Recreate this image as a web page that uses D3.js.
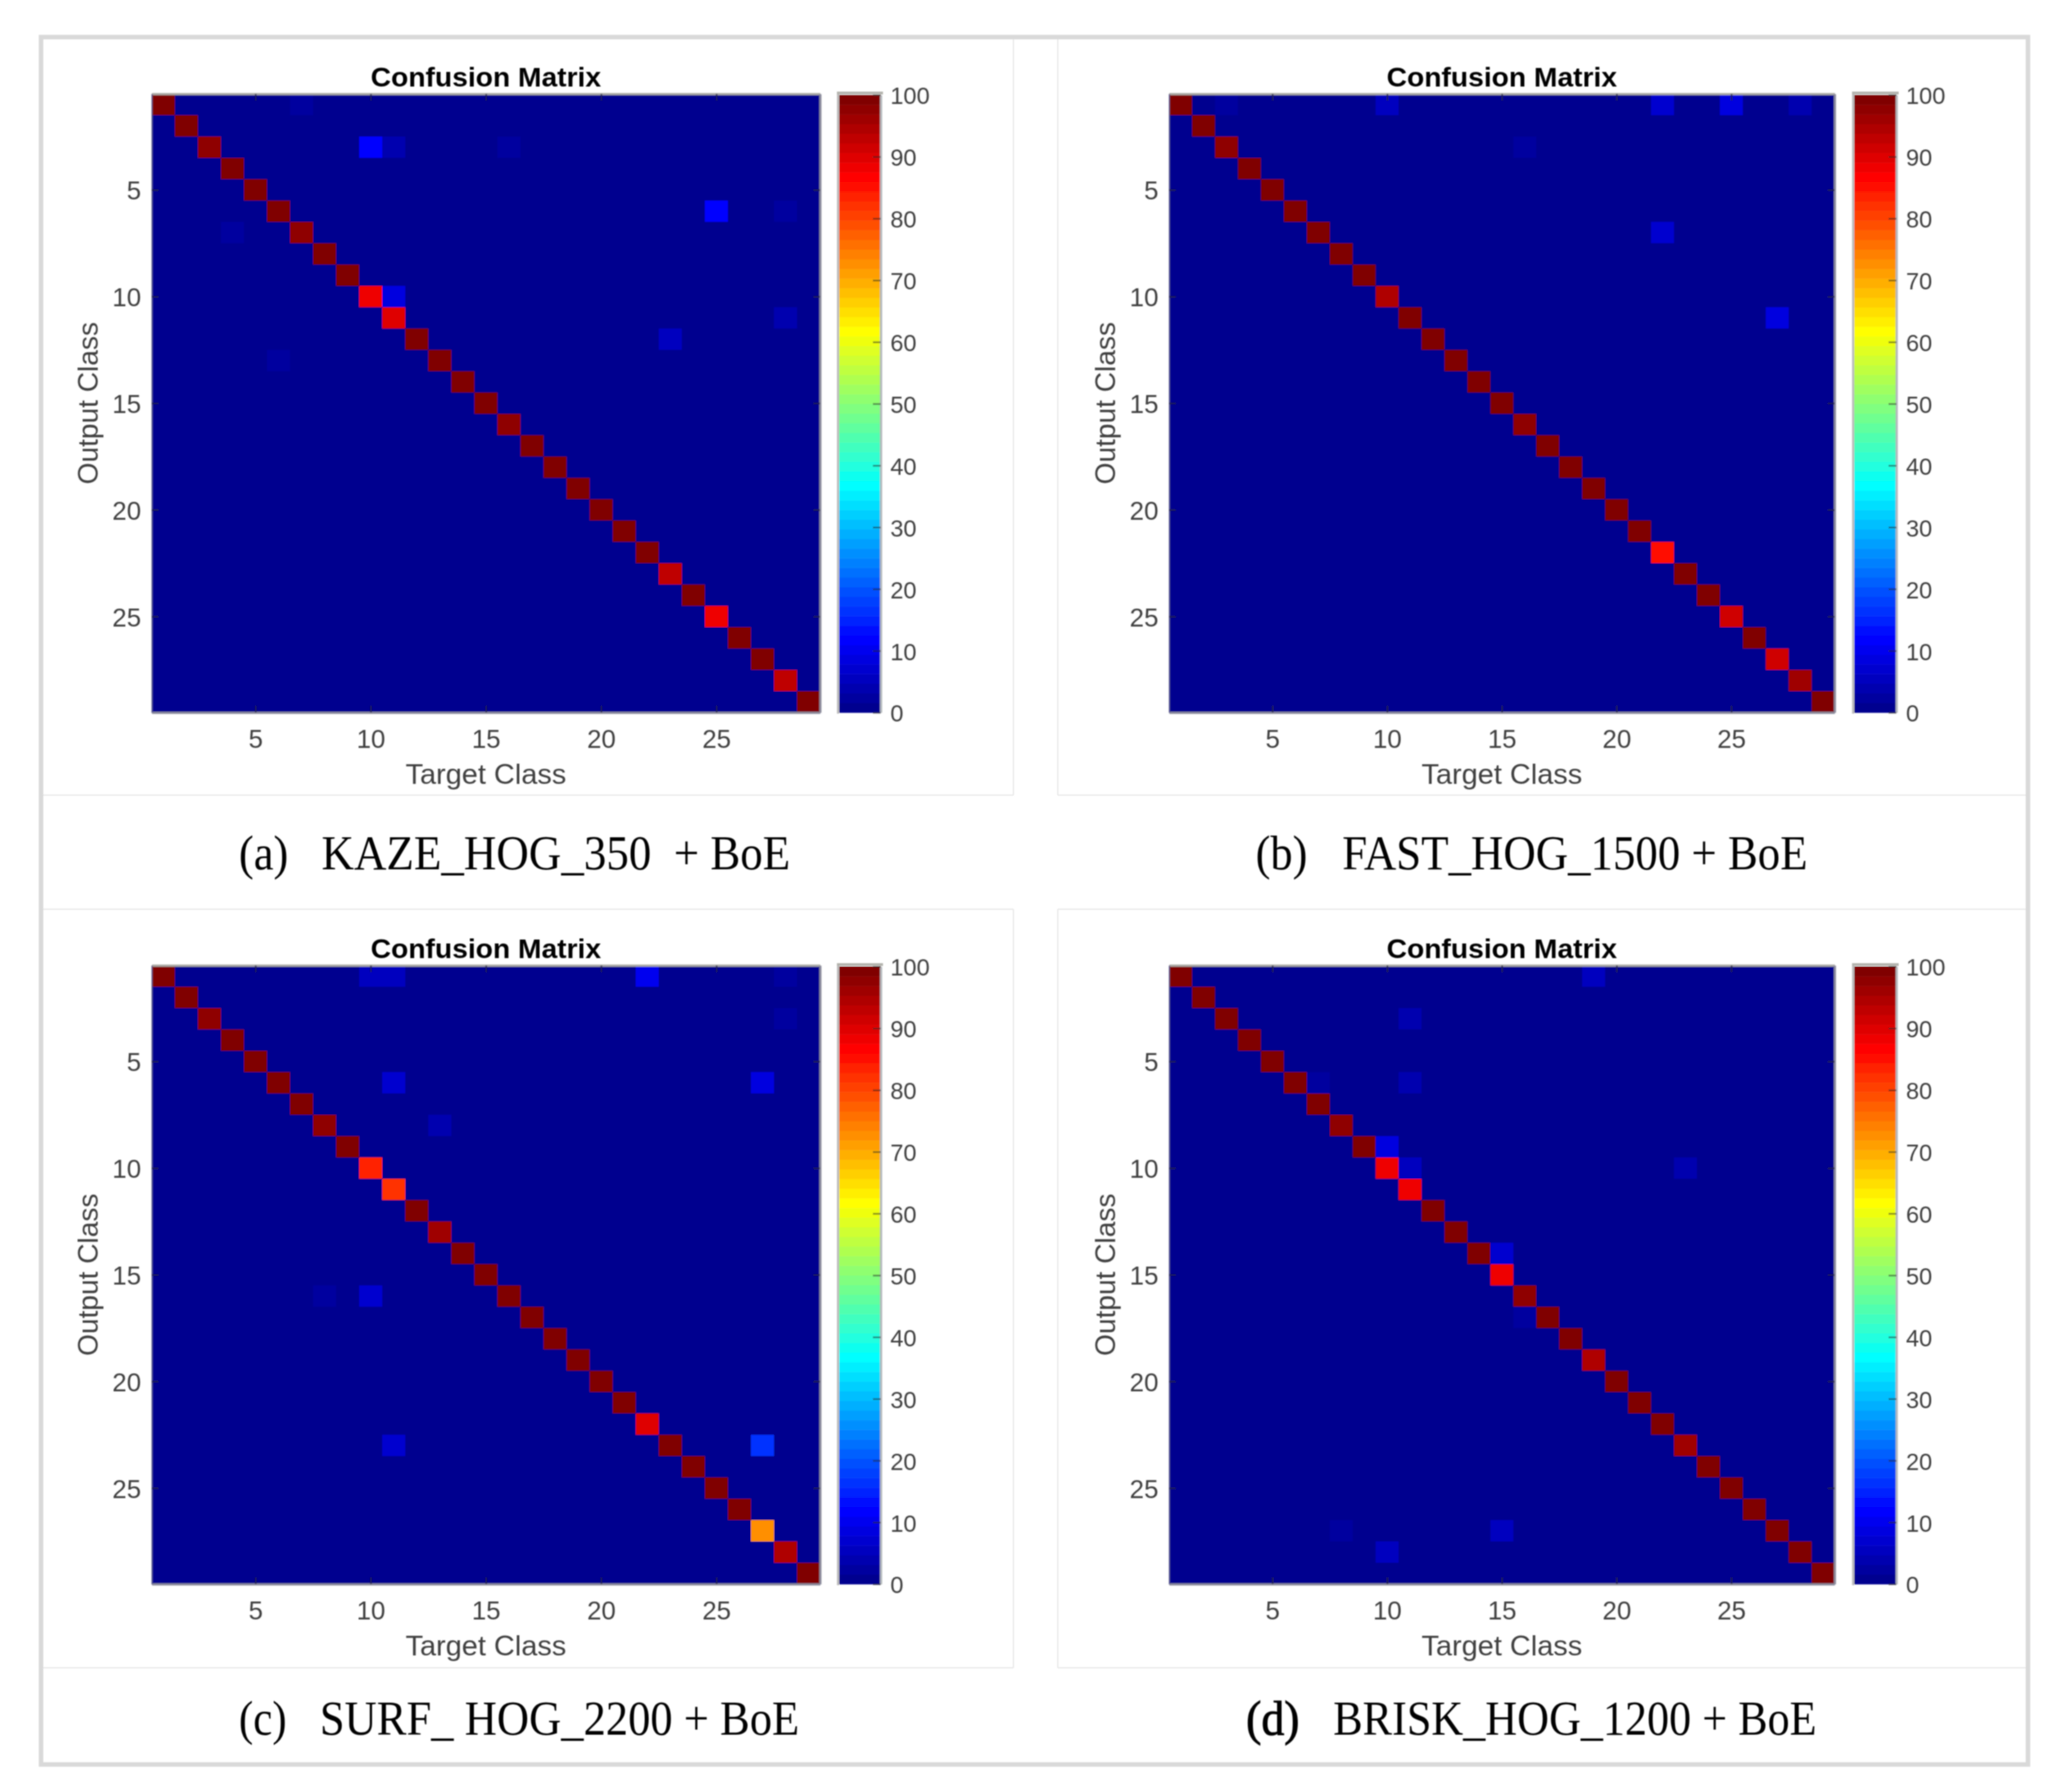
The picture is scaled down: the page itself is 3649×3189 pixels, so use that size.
<!DOCTYPE html>
<html lang='en'>
	<head>
		<meta charset='UTF-8'>
		<title>Confusion Matrix</title>
		<style>
			html, body { margin: 0; padding: 0; background: #fff; }
			svg { display: block; }
		</style>
	</head>
	<body>
		<svg id='graph' width='3649' height='3189'></svg>

		<script src='https://d3js.org/d3.v7.min.js'></script>
		<script>
			const classCount = 29
			const xTicks = [5, 10, 15, 20, 25]
			const yTicks = [5, 10, 15, 20, 25]
			const barTicks = [0, 10, 20, 30, 40, 50, 60, 70, 80, 90, 100]

			// diagonal values, class 1 to 29
			const diagA = [100, 99, 97.5, 99, 99, 99, 97.5, 99, 99, 88, 90, 99, 99, 99, 100, 97.5, 100, 100, 99, 99, 100, 99, 93, 100, 88, 100, 99, 93, 100]
			const diagB = [99, 99, 97.5, 99, 99, 100, 99, 99, 99, 94.5, 99, 99, 99, 99, 100, 97.5, 100, 99, 99, 99, 100, 85, 100, 100, 91, 100, 91, 96, 100]
			const diagC = [100, 99, 97.5, 99, 99, 99, 100, 97.5, 99, 84, 82, 99, 96, 99, 100, 99, 99, 99, 99, 100, 100, 90, 99, 100, 99, 100, 72, 94.5, 100]
			const diagD = [100, 99, 99, 99, 99, 100, 99, 97.5, 99, 88, 89, 100, 99, 99, 89, 97.5, 99, 99, 94.5, 100, 100, 100, 96, 99, 99, 99, 99, 100, 100]

			// off diagonal cells [output class, target class, value]
			const offA = [[1, 7, 2], [3, 10, 11], [3, 11, 4], [3, 16, 2], [6, 25, 11], [6, 28, 2.5], [7, 4, 2], [10, 11, 8.5], [11, 28, 4], [12, 23, 5], [13, 6, 1.7]]
			const offB = [[1, 3, 2.5], [1, 10, 5], [1, 22, 7], [1, 25, 9], [1, 28, 4], [3, 16, 2], [7, 22, 7], [11, 27, 9]]
			const offC = [[1, 10, 6], [1, 11, 6], [1, 22, 10], [1, 28, 3], [3, 28, 2.5], [6, 11, 7], [6, 27, 8], [8, 13, 4], [16, 8, 3], [16, 10, 7], [23, 11, 7], [23, 27, 16]]
			const offD = [[1, 19, 6], [3, 11, 4], [6, 7, 2.5], [6, 11, 4], [9, 10, 8], [10, 11, 6], [10, 23, 4], [14, 15, 7], [17, 16, 2], [27, 8, 2], [27, 15, 5], [28, 10, 5]]

			const titles = ['Confusion Matrix', 'Confusion Matrix', 'Confusion Matrix', 'Confusion Matrix']
			const captionTags = ['(a)', '(b)', '(c)', '(d)']
			const captionNames = ['KAZE_HOG_350  + BoE', 'FAST_HOG_1500 + BoE', 'SURF_ HOG_2200 + BoE', 'BRISK_HOG_1200 + BoE']

			const svg = d3.select('#graph')

			// the reference is a resampled image, everything is a bit soft
			svg.append('defs').append('filter').attr('id', 'soft')
				.attr('filterUnits', 'userSpaceOnUse').attr('x', 0).attr('y', 0).attr('width', 3649).attr('height', 3189)
				.append('feGaussianBlur').attr('stdDeviation', 1.1)
			const root = svg.append('g').attr('filter', 'url(#soft)')

			// MATLAB jet, 64 levels
			const jet = d3.range(64).map((i) => {
				const t = (i + 1) / 64
				const ch = (a, b) => Math.round(255 * Math.max(0, Math.min(1, a, b)))
				return `rgb(${ch(4 * t - 1.5, -4 * t + 4.5)},${ch(4 * t - 0.5, -4 * t + 3.5)},${ch(4 * t + 0.5, -4 * t + 2.5)})`
			})
			const color = d3.scaleQuantize().domain([0, 100]).range(jet)

			// page frame
			const frame = root.append('g').attr('fill', 'none')
			frame.append('rect').attr('x', 73).attr('y', 66).attr('width', 3535).attr('height', 3074)
				.attr('stroke', '#d9d9d9').attr('stroke-width', 8)
			const hairlines = [[77, 1415, 1803, 1415], [1803, 70, 1803, 1415], [1882, 70, 1882, 1415], [1882, 1415, 3604, 1415],
				[77, 1618, 1803, 1618], [1803, 1618, 1803, 2968], [77, 2968, 1803, 2968], [1882, 1618, 3604, 1618], [1882, 1618, 1882, 2968], [1882, 2968, 3604, 2968]]
			frame.selectAll('line').data(hairlines).enter().append('line')
				.attr('x1', (d) => d[0]).attr('y1', (d) => d[1]).attr('x2', (d) => d[2]).attr('y2', (d) => d[3])
				.attr('stroke', '#e6e6e6').attr('stroke-width', 2)

			const panels = [
				{ diag: diagA, off: offA, left: 270, right: 1459, top: 167, bottom: 1268, barLeft: 1493, barRight: 1567, capY: 1547, tagX: 425, tagW: 88, nameX: 572, nameW: 834 },
				{ diag: diagB, off: offB, left: 2080, right: 3264, top: 167, bottom: 1268, barLeft: 3299, barRight: 3374, capY: 1547, tagX: 2234, tagW: 92, nameX: 2388, nameW: 828 },
				{ diag: diagC, off: offC, left: 270, right: 1459, top: 1718, bottom: 2819, barLeft: 1493, barRight: 1567, capY: 3087, tagX: 425, tagW: 85, nameX: 569, nameW: 853 },
				{ diag: diagD, off: offD, left: 2080, right: 3264, top: 1718, bottom: 2819, barLeft: 3299, barRight: 3374, capY: 3087, tagX: 2217, tagW: 95, nameX: 2372, nameW: 860 }
			]

			panels.forEach((p, idx) => {
				const g = root.append('g')
				const x = d3.scaleLinear().domain([0.5, classCount + 0.5]).range([p.left, p.right])
				const y = d3.scaleLinear().domain([0.5, classCount + 0.5]).range([p.top, p.bottom])
				const bar = d3.scaleLinear().domain([0, 100]).range([p.bottom, p.top + 2])
				const midX = (p.left + p.right) / 2

				const cells = [...p.diag.map((v, i) => [i + 1, i + 1, v]), ...p.off]
				const image = g.append('g')
				image.append('rect').attr('x', p.left).attr('y', p.top)
					.attr('width', p.right - p.left).attr('height', p.bottom - p.top).attr('fill', color(0))
				image.selectAll('.cell').data(cells).enter().append('rect')
					.attr('class', 'cell')
					.attr('x', (d) => x(d[1] - 0.5))
					.attr('y', (d) => y(d[0] - 0.5))
					.attr('width', x(2) - x(1))
					.attr('height', y(2) - y(1))
					.attr('fill', (d) => color(d[2]))

				// inward ticks on all four sides
				const tickColor = 'rgba(40,40,70,0.75)'
				const axisBottom = g.append('g').attr('transform', `translate(0, ${p.bottom})`)
					.call(d3.axisBottom(x).tickValues(xTicks).tickSizeInner(-12).tickSizeOuter(0).tickPadding(30))
				const axisTop = g.append('g').attr('transform', `translate(0, ${p.top})`)
					.call(d3.axisTop(x).tickValues(xTicks).tickSizeInner(-12).tickSizeOuter(0).tickFormat(''))
				const axisLeft = g.append('g').attr('transform', `translate(${p.left}, 0)`)
					.call(d3.axisLeft(y).tickValues(yTicks).tickSizeInner(-12).tickSizeOuter(0).tickPadding(19))
				const axisRight = g.append('g').attr('transform', `translate(${p.right}, 0)`)
					.call(d3.axisRight(y).tickValues(yTicks).tickSizeInner(-12).tickSizeOuter(0).tickFormat(''))
				;[axisBottom, axisTop, axisLeft, axisRight].forEach((a) => {
					a.select('.domain').attr('stroke', '#8b8b9c').attr('stroke-width', 4)
					a.selectAll('.tick line').attr('stroke', tickColor).attr('stroke-width', 3)
					a.selectAll('text').attr('font-family', 'Liberation Sans').attr('font-size', 46).attr('fill', '#404040')
				})
				axisTop.select('.domain').attr('stroke', '#a9a9a4')
				axisLeft.select('.domain').attr('stroke', '#5a5a90').attr('stroke-width', 2)
				axisLeft.selectAll('text').attr('dy', '0.37em')

				g.append('text').attr('x', midX).attr('y', p.top - 13)
					.attr('text-anchor', 'middle').attr('font-family', 'Liberation Sans').attr('font-weight', 'bold')
					.attr('textLength', 410).attr('lengthAdjust', 'spacingAndGlyphs')
					.attr('font-size', 49).attr('fill', '#000').text(titles[idx])
				g.append('text').attr('x', midX).attr('y', p.bottom + 127)
					.attr('text-anchor', 'middle').attr('font-family', 'Liberation Sans')
					.attr('textLength', 286).attr('lengthAdjust', 'spacingAndGlyphs')
					.attr('font-size', 50).attr('fill', '#404040').text('Target Class')
				g.append('text').attr('transform', `translate(${p.left - 96}, ${(p.top + p.bottom) / 2}) rotate(-90)`)
					.attr('text-anchor', 'middle').attr('font-family', 'Liberation Sans')
					.attr('font-size', 50).attr('fill', '#404040').text('Output Class')

				// colorbar
				const levels = d3.range(64)
				g.selectAll('.level').data(levels).enter().append('rect')
					.attr('class', 'level')
					.attr('x', p.barLeft)
					.attr('y', (i) => bar((i + 1) * 100 / 64))
					.attr('width', p.barRight - p.barLeft)
					.attr('height', (i) => bar(i * 100 / 64) - bar((i + 1) * 100 / 64) + 0.5)
					.attr('fill', (i) => jet[i])
				const barAxis = g.append('g').attr('transform', `translate(${p.barRight}, 0)`)
					.call(d3.axisRight(bar).tickValues(barTicks).tickSizeInner(-14).tickSizeOuter(0).tickPadding(17))
				barAxis.select('.domain').attr('stroke', '#b4b8bc').attr('stroke-width', 4)
				barAxis.selectAll('.tick line').attr('stroke', 'rgba(40,40,40,0.55)').attr('stroke-width', 3)
				barAxis.selectAll('text').attr('font-family', 'Liberation Sans').attr('font-size', 42).attr('fill', '#404040')
					.attr('text-anchor', 'start').attr('dy', '0.38em')
				g.append('rect').attr('x', p.barLeft - 4).attr('y', p.top - 4).attr('width', 4).attr('height', p.bottom - p.top + 6).attr('fill', '#bdbdbd')
				g.append('rect').attr('x', p.barLeft - 4).attr('y', p.top - 4).attr('width', p.barRight - p.barLeft + 8).attr('height', 5).attr('fill', '#b4b4ae')

				// caption
				g.append('text').attr('x', p.tagX).attr('y', p.capY)
					.attr('textLength', p.tagW).attr('lengthAdjust', 'spacingAndGlyphs')
					.attr('font-family', 'Liberation Serif').attr('font-size', 86).attr('fill', '#000')
					.attr('stroke', '#000').attr('stroke-width', idx === 3 ? 1.5 : 0).text(captionTags[idx])
				g.append('text').attr('x', p.nameX).attr('y', p.capY).style('white-space', 'pre')
					.attr('textLength', p.nameW).attr('lengthAdjust', 'spacingAndGlyphs')
					.attr('font-family', 'Liberation Serif').attr('font-size', 86).attr('fill', '#000').text(captionNames[idx])
			})
		</script>
	</body>
</html>
